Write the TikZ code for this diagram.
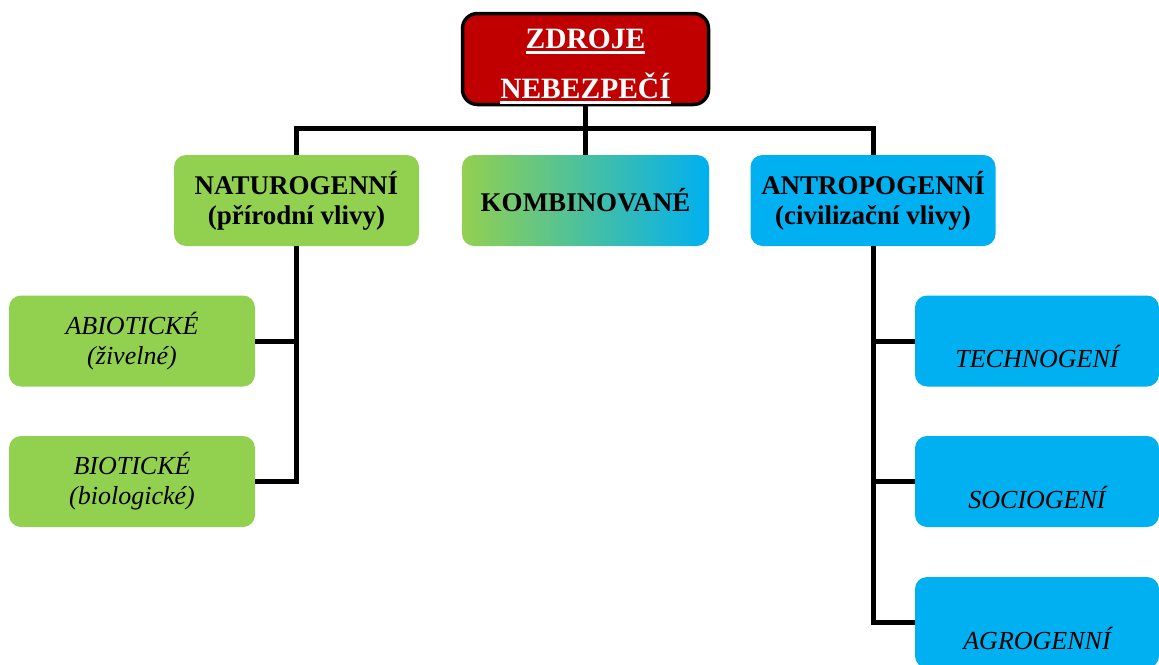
\documentclass[tikz,border=0pt]{standalone}
\usepackage{fontspec}
\setmainfont{Liberation Serif}

\definecolor{hazred}{HTML}{C00000}
\definecolor{natgreen}{HTML}{92D050}
\definecolor{antblue}{HTML}{00B0F0}
\definecolor{mixteal}{HTML}{78C8A0}

% thick white underline for the title
\newcommand{\hdrline}[1]{\setbox0=\hbox{#1}\rlap{\color{white}\rule[-5pt]{\wd0}{3pt}}\box0}

\tikzset{
  box/.style={rounded corners=12pt, minimum width=245pt, minimum height=91pt,
    inner sep=0pt, align=center},
  natbox/.style={box, fill=natgreen},
  antbox/.style={box, fill=antblue},
  head/.style={font=\bfseries\fontsize{27}{30}\selectfont},
  sub/.style={font=\itshape\fontsize{26}{30}\selectfont},
  link/.style={line width=5pt, black},
}

\begin{document}
\begin{tikzpicture}[x=1pt, y=-1pt]
    \useasboundingbox (0,0) rectangle (1159,664);
    \clip (0,0) rectangle (1159,664);
    % top
    \node[box, minimum width=246pt, minimum height=91pt, rounded corners=15pt,
      fill=hazred, draw=black, line width=3.5pt, text=white,
      font=\bfseries\fontsize{29.5}{50}\selectfont] (src) at (585.5,59)
      {\rule{0pt}{34pt}\hdrline{ZDROJE}\\\hdrline{NEBEZPEČÍ}};
    % second row
    \node[natbox, head] (nat) at (296.5,200.5) {NATUROGENNÍ\\(přírodní vlivy)};
    \node[box, head, minimum width=247pt, left color=natgreen, middle color=mixteal,
      right color=antblue] (mix) at (585.5,200.5) {KOMBINOVANÉ};
    \node[antbox, head] (ant) at (873,200.5) {ANTROPOGENNÍ\\(civilizační vlivy)};
    % natural
    \node[natbox, sub, minimum width=246pt] (abio) at (132,341) {ABIOTICKÉ\\(živelné)};
    \node[natbox, sub, minimum width=246pt] (bio) at (132,481.5) {BIOTICKÉ\\(biologické)};
    % anthropogenic
    \node[antbox, sub, minimum width=244pt] (tech) at (1037,341) {\strut\\TECHNOGENÍ};
    \node[antbox, sub, minimum width=244pt] (soc) at (1037,481.5) {\strut\\SOCIOGENÍ};
    \node[antbox, sub, minimum width=244pt] (agro) at (1037,622.5) {\strut\\AGROGENNÍ};

    \coordinate (hub) at (585.5,128);
    \draw[link] (src.south) -- (hub);
    \draw[link] (nat.north) |- (hub) -| (ant.north);
    \draw[link] (hub) -- (mix.north);
    \draw[link] (nat.south) |- (abio.east);
    \draw[link] (nat.south) |- (bio.east);
    \draw[link] (ant.south) |- (tech.west);
    \draw[link] (ant.south) |- (soc.west);
    \draw[link] (ant.south) |- (agro.west);
\end{tikzpicture}
\end{document}
